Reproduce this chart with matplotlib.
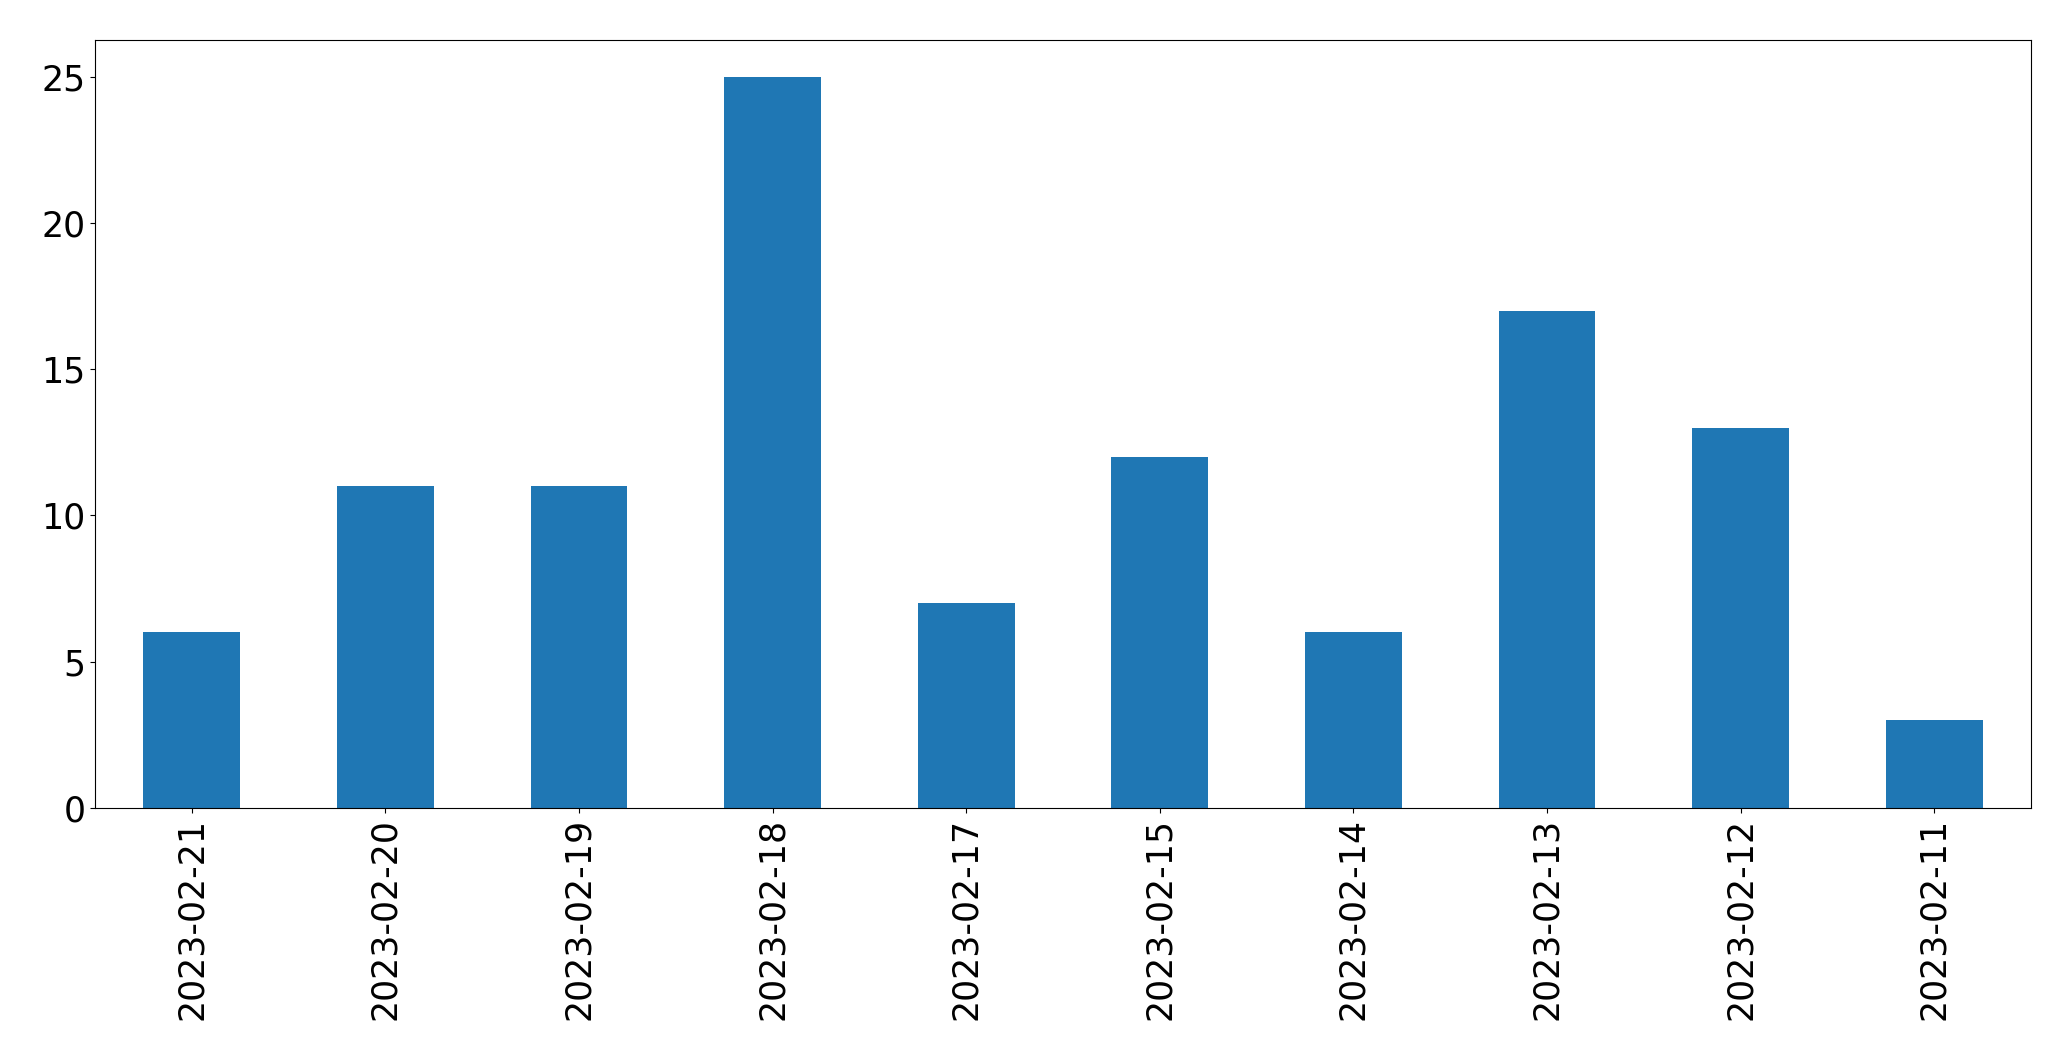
import matplotlib
matplotlib.use("Agg")
import matplotlib.pyplot as plt
import pandas as pd

# daily counts, in the order shown on the chart
dates = ["2023-02-21", "2023-02-20", "2023-02-19", "2023-02-18", "2023-02-17",
         "2023-02-15", "2023-02-14", "2023-02-13", "2023-02-12", "2023-02-11"]
counts = [6, 11, 11, 25, 7, 12, 6, 17, 13, 3]

s = pd.Series(counts, index=dates)

fig = plt.figure(figsize=(20.71, 10.61), dpi=100)
ax = fig.add_axes([0.0459, 0.2385, 0.9348, 0.7238])
s.plot(kind="bar", ax=ax, color="#1f77b4", width=0.5)

ax.tick_params(axis="both", labelsize=25)
plt.setp(ax.get_xticklabels(), rotation=90)

fig.savefig("out.png", dpi=100)
